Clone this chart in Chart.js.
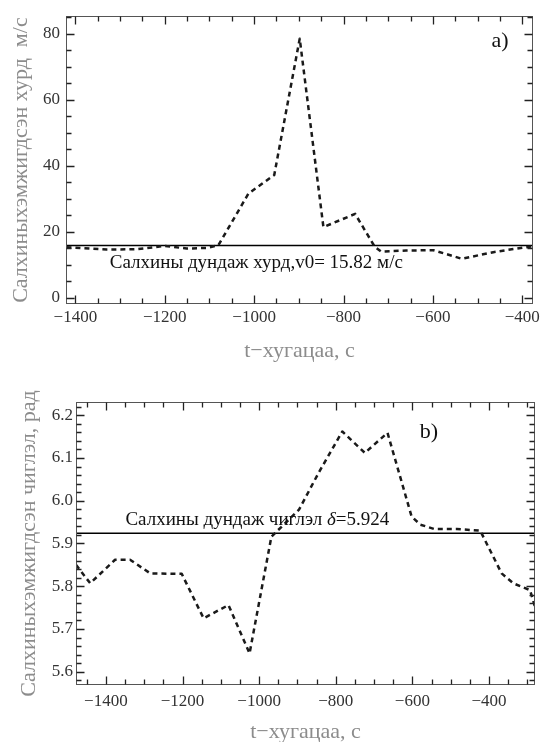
<!DOCTYPE html>
<html>
<head>
<meta charset="utf-8">
<script src="https://cdn.jsdelivr.net/npm/chart.js@4.4.0/dist/chart.umd.min.js"></script>
<style>
  html, body { margin: 0; padding: 0; background: #fff; }
  body { width: 544px; height: 742px; position: relative; overflow: hidden; }
  canvas { position: absolute; left: 0; }
  #speedChart { top: 0; }
  #dirChart { top: 370px; }
</style>
</head>
<body>
<canvas id="speedChart" width="544" height="370"></canvas>
<canvas id="dirChart" width="544" height="372"></canvas>
<script>
// a) wind speed, m/s
const timeA = [-1420, -1330, -1263, -1199, -1151, -1106, -1080, -1013, -955, -898, -845, -774, -730, -716, -660, -599, -535, -465, -398, -376];
const speedA = [15.3, 14.6, 14.7, 15.7, 14.9, 15.1, 15.9, 31.5, 37.2, 78.5, 21.4, 25.4, 15.4, 14.0, 14.3, 14.4, 11.8, 13.8, 15.2, 15.6];
const meanSpeed = 15.82;
const xRangeA = [-1421, -376];
const yRangeA = [-1.9, 85.3];

// b) wind direction, rad
const timeB = [-1478, -1441, -1376, -1337, -1284, -1202, -1145, -1080, -1025, -968, -896, -845, -783, -724, -665, -602, -579, -543, -484, -423, -367, -337, -293, -280];
const dirB = [5.85, 5.807, 5.862, 5.862, 5.83, 5.829, 5.725, 5.756, 5.643, 5.916, 5.979, 6.065, 6.162, 6.112, 6.159, 5.963, 5.944, 5.934, 5.934, 5.93, 5.83, 5.807, 5.791, 5.752];
const meanDir = 5.924;
const xRangeB = [-1478, -280];
const yRangeB = [5.569, 6.231];

const serif = '"Liberation Serif", "DejaVu Serif", serif';

function isMult(v, step) {
  return Math.abs(v / step - Math.round(v / step)) < 1e-6;
}

function stepValues(min, max, step) {
  const out = [];
  for (let k = Math.ceil(min / step - 1e-9); k * step <= max + 1e-9; k++) {
    out.push(+(k * step).toFixed(6));
  }
  return out;
}

function fmtX(v) {
  if (!isMult(v, 200)) return '';
  return v < 0 ? '\u2212' + Math.abs(v) : String(v);
}

// frame with inward ticks on all sides, the mean label and the panel letter
function makeFrame(cfg) {
  return {
    id: 'frame',
    afterDraw(chart) {
      const { ctx, chartArea: a, scales: { x, y } } = chart;
      const L = Math.round(a.left) + 0.5, R = Math.round(a.right) - 0.5;
      const T = Math.round(a.top) + 0.5, B = Math.round(a.bottom) - 0.5;
      ctx.save();
      ctx.strokeStyle = '#555';
      ctx.lineWidth = 1;
      ctx.strokeRect(L, T, R - L, B - T);
      ctx.strokeStyle = '#222';
      ctx.lineWidth = 1.3;
      ctx.beginPath();
      x.ticks.forEach(t => {
        const len = isMult(t.value, cfg.xMajor) ? 8 : 5;
        const px = Math.round(x.getPixelForValue(t.value)) + 0.5;
        ctx.moveTo(px, B); ctx.lineTo(px, B - len);
        ctx.moveTo(px, T); ctx.lineTo(px, T + len);
      });
      y.ticks.forEach(t => {
        const len = isMult(t.value, cfg.yMajor) ? 8 : 5;
        const py = Math.round(y.getPixelForValue(t.value)) + 0.5;
        ctx.moveTo(L, py); ctx.lineTo(L + len, py);
        ctx.moveTo(R, py); ctx.lineTo(R - len, py);
      });
      ctx.stroke();

      ctx.fillStyle = '#111';
      ctx.textBaseline = 'middle';
      ctx.textAlign = 'left';
      let tx = x.getPixelForValue(cfg.noteAt);
      const ty = y.getPixelForValue(cfg.mean) + cfg.noteDy;
      cfg.note.forEach((part, i) => {
        ctx.font = (i === cfg.noteItalic ? 'italic ' : '') + '19px ' + serif;
        ctx.fillText(part, tx, ty);
        tx += ctx.measureText(part).width;
      });

      ctx.font = '22px ' + serif;
      ctx.textAlign = 'center';
      ctx.fillText(cfg.panel, a.right - cfg.panelDx, a.top + cfg.panelDy);
      ctx.restore();
    }
  };
}

function pairs(xs, ys) {
  return xs.map((v, i) => ({ x: v, y: ys[i] }));
}

function buildChart(el, c) {
  return new Chart(document.getElementById(el), {
    type: 'line',
    data: {
      datasets: [
        {
          data: pairs(c.time, c.values),
          borderColor: '#1a1a1a',
          borderWidth: 2.5,
          borderDash: [5, 4],
          borderJoinStyle: 'round',
          pointRadius: 0,
          tension: 0,
          fill: false
        },
        {
          data: pairs(c.xRange, [c.mean, c.mean]),
          borderColor: '#000',
          borderWidth: 1.5,
          pointRadius: 0,
          fill: false
        }
      ]
    },
    options: {
      responsive: false,
      animation: false,
      layout: { padding: c.padding },
      plugins: { legend: { display: false }, tooltip: { enabled: false } },
      scales: {
        x: {
          type: 'linear',
          min: c.xRange[0],
          max: c.xRange[1],
          afterBuildTicks: s => { s.ticks = stepValues(s.min, s.max, 50).map(value => ({ value })); },
          afterFit: s => { s.height = c.xAxisHeight; },
          grid: { display: false, drawTicks: false },
          border: { display: false },
          ticks: {
            autoSkip: false,
            maxRotation: 0,
            padding: c.xPad,
            color: '#333',
            font: { family: serif, size: 17 },
            callback: fmtX
          },
          title: {
            display: true,
            text: 't\u2212хугацаа, с',
            color: '#8c8c8c',
            font: { family: serif, size: 22 },
            padding: { top: 0, bottom: c.xTitlePad }
          }
        },
        y: {
          min: c.yRange[0],
          max: c.yRange[1],
          afterBuildTicks: s => { s.ticks = stepValues(s.min, s.max, c.yStep).map(value => ({ value })); },
          afterFit: s => { s.width = c.yAxisWidth; },
          grid: { display: false, drawTicks: false },
          border: { display: false },
          ticks: {
            autoSkip: false,
            padding: c.yPad,
            color: '#333',
            font: { family: serif, size: 17 },
            callback: c.yFmt
          },
          title: {
            display: true,
            text: c.yTitle,
            color: '#8c8c8c',
            font: { family: serif, size: 22 },
            padding: { top: c.yTitlePad, bottom: 0 }
          }
        }
      }
    },
    plugins: [makeFrame({
      xMajor: 200, yMajor: c.yMajor,
      mean: c.mean, note: c.note, noteItalic: c.noteItalic,
      noteAt: c.noteAt, noteDy: c.noteDy,
      panel: c.panel, panelDx: c.panelDx, panelDy: c.panelDy
    })]
  });
}

buildChart('speedChart', {
  time: timeA, values: speedA, mean: meanSpeed,
  xRange: xRangeA, yRange: yRangeA,
  yStep: 5, yMajor: 20,
  yFmt: v => isMult(v, 20) ? String(Math.round(v)) : '',
  yTitle: 'Салхиныхэмжигдсэн хурд  м/с',
  padding: { top: 15, right: 11, left: 0, bottom: 0 },
  xAxisHeight: 66, yAxisWidth: 66,
  xPad: 3, yPad: 6, xTitlePad: 6, yTitlePad: 8,
  note: ['Салхины дундаж хурд,v0= 15.82 м/с'], noteItalic: -1,
  noteAt: -1323, noteDy: 17,
  panel: 'a)', panelDx: 33, panelDy: 25
});

buildChart('dirChart', {
  time: timeB, values: dirB, mean: meanDir,
  xRange: xRangeB, yRange: yRangeB,
  yStep: 0.02, yMajor: 0.1,
  yFmt: v => isMult(v, 0.1) ? v.toFixed(1) : '',
  yTitle: 'Салхиныхэмжигдсэн чиглэл, рад',
  padding: { top: 32, right: 9, left: 0, bottom: 0 },
  xAxisHeight: 57, yAxisWidth: 76,
  xPad: 6, yPad: 3, xTitlePad: -3, yTitlePad: 16,
  note: ['Салхины дундаж чиглэл ', 'δ', '=5.924'], noteItalic: 1,
  noteAt: -1349, noteDy: -13,
  panel: 'b)', panelDx: 106, panelDy: 30
});
</script>
</body>
</html>
